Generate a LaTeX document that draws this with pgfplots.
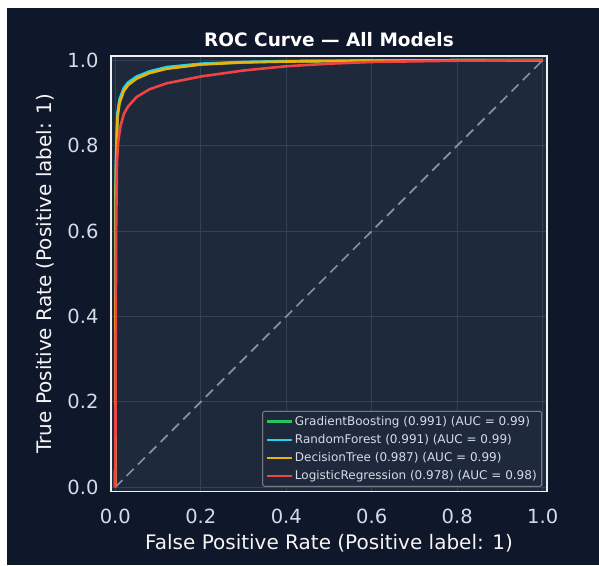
\documentclass[border=0pt]{standalone}
\usepackage{fontspec}
\setmainfont{DejaVu Sans}
\usepackage{pgfplots}
\pgfplotsset{compat=1.18}

\definecolor{bgdark}{HTML}{0F172A}
\definecolor{panel}{HTML}{1E293B}
\definecolor{gridc}{HTML}{334155}
\definecolor{ticktxt}{HTML}{D5DCE6}
\definecolor{gbgreen}{HTML}{22C55E}
\definecolor{rfcyan}{HTML}{22D3EE}
\definecolor{dtamber}{HTML}{EAB308}
\definecolor{lrred}{HTML}{EF4444}
\definecolor{diag}{HTML}{8492A6}

\begin{document}
\begin{tikzpicture}[x=1pt,y=1pt]
\fill[white] (0,0) rectangle (599,565);
\fill[bgdark] (7,0) rectangle (599,557);
\begin{axis}[
  at={(111pt,73.5pt)}, anchor=south west,
  scale only axis, width=436pt, height=435.5pt,
  xmin=-0.01, xmax=1.01, ymin=-0.01, ymax=1.01,
  xtick={0,0.2,...,1.0}, ytick={0,0.2,...,1.0},
  /pgf/number format/.cd, fixed, fixed zerofill, precision=1, assume math mode=true,
  /pgfplots/.cd,
  axis background/.style={fill=panel},
  axis line style={draw=white!88!gray, line width=1.4pt},
  tick style={draw=none},
  grid=major,
  grid style={draw=gridc, line width=0.8pt},
  ticklabel style={text=ticktxt, font=\fontsize{19.5}{22}\selectfont},
  xticklabel style={yshift=-14pt},
  yticklabel style={xshift=-9pt},
  xlabel={False Positive Rate (Positive label: 1)},
  ylabel={True Positive Rate (Positive label: 1)},
  label style={text=white!92!gray, font=\fontsize{20}{23}\selectfont},
  xlabel style={yshift=-4pt},
  ylabel style={yshift=6pt},
  title={ROC Curve — All Models},
  title style={text=white, font=\bfseries\fontsize{18.5}{22}\selectfont},
  legend cell align=left,
  legend style={at={(1,0)}, anchor=south east, xshift=-5pt, yshift=5pt,
    fill=panel, draw=gray!70, line width=0.6pt, text=ticktxt,
    font=\fontsize{12}{13.5}\selectfont, rounded corners=1.5pt,
    row sep=3.5pt, inner sep=3pt},
  legend image code/.code={\draw[#1, line width=2.2pt] (0pt,0pt) -- (25pt,0pt);},
  every axis plot/.append style={line width=2.6pt},
]
\addplot[diag, line width=1.7pt, dash pattern=on 10pt off 6pt, forget plot]
  coordinates {(0,0)(1,1)};
\addplot[gbgreen] coordinates {
  (0,0)(0.001,0.70)(0.002,0.77)(0.005,0.87)(0.01,0.905)(0.02,0.932)(0.03,0.945)
  (0.05,0.96)(0.08,0.972)(0.12,0.982)(0.2,0.991)(0.3,0.995)(0.4,0.998)
  (0.6,0.999)(0.8,1)(1,1)};
\addlegendentry{GradientBoosting (0.991) (AUC = 0.99)}
\addplot[rfcyan] coordinates {
  (0,0)(0.001,0.71)(0.002,0.78)(0.005,0.875)(0.01,0.909)(0.02,0.935)(0.03,0.948)
  (0.05,0.962)(0.08,0.974)(0.12,0.984)(0.2,0.992)(0.3,0.996)(0.4,0.998)
  (0.6,0.999)(0.8,1)(1,1)};
\addlegendentry{RandomForest (0.991) (AUC = 0.99)}
\addplot[dtamber] coordinates {
  (0,0)(0.001,0.69)(0.002,0.76)(0.005,0.865)(0.01,0.9)(0.02,0.928)(0.03,0.942)
  (0.05,0.957)(0.08,0.97)(0.12,0.98)(0.2,0.99)(0.3,0.995)(0.4,0.997)
  (0.6,0.999)(0.8,1)(1,1)};
\addlegendentry{DecisionTree (0.987) (AUC = 0.99)}
\addplot[lrred] coordinates {
  (0,0)(0.002,0.60)(0.004,0.76)(0.007,0.81)(0.012,0.845)(0.02,0.874)(0.03,0.892)
  (0.05,0.914)(0.08,0.932)(0.12,0.946)(0.2,0.962)(0.3,0.976)(0.4,0.986)
  (0.5,0.992)(0.6,0.996)(0.8,0.999)(1,1)};
\addlegendentry{LogisticRegression (0.978) (AUC = 0.98)}
\end{axis}
\end{tikzpicture}
\end{document}
